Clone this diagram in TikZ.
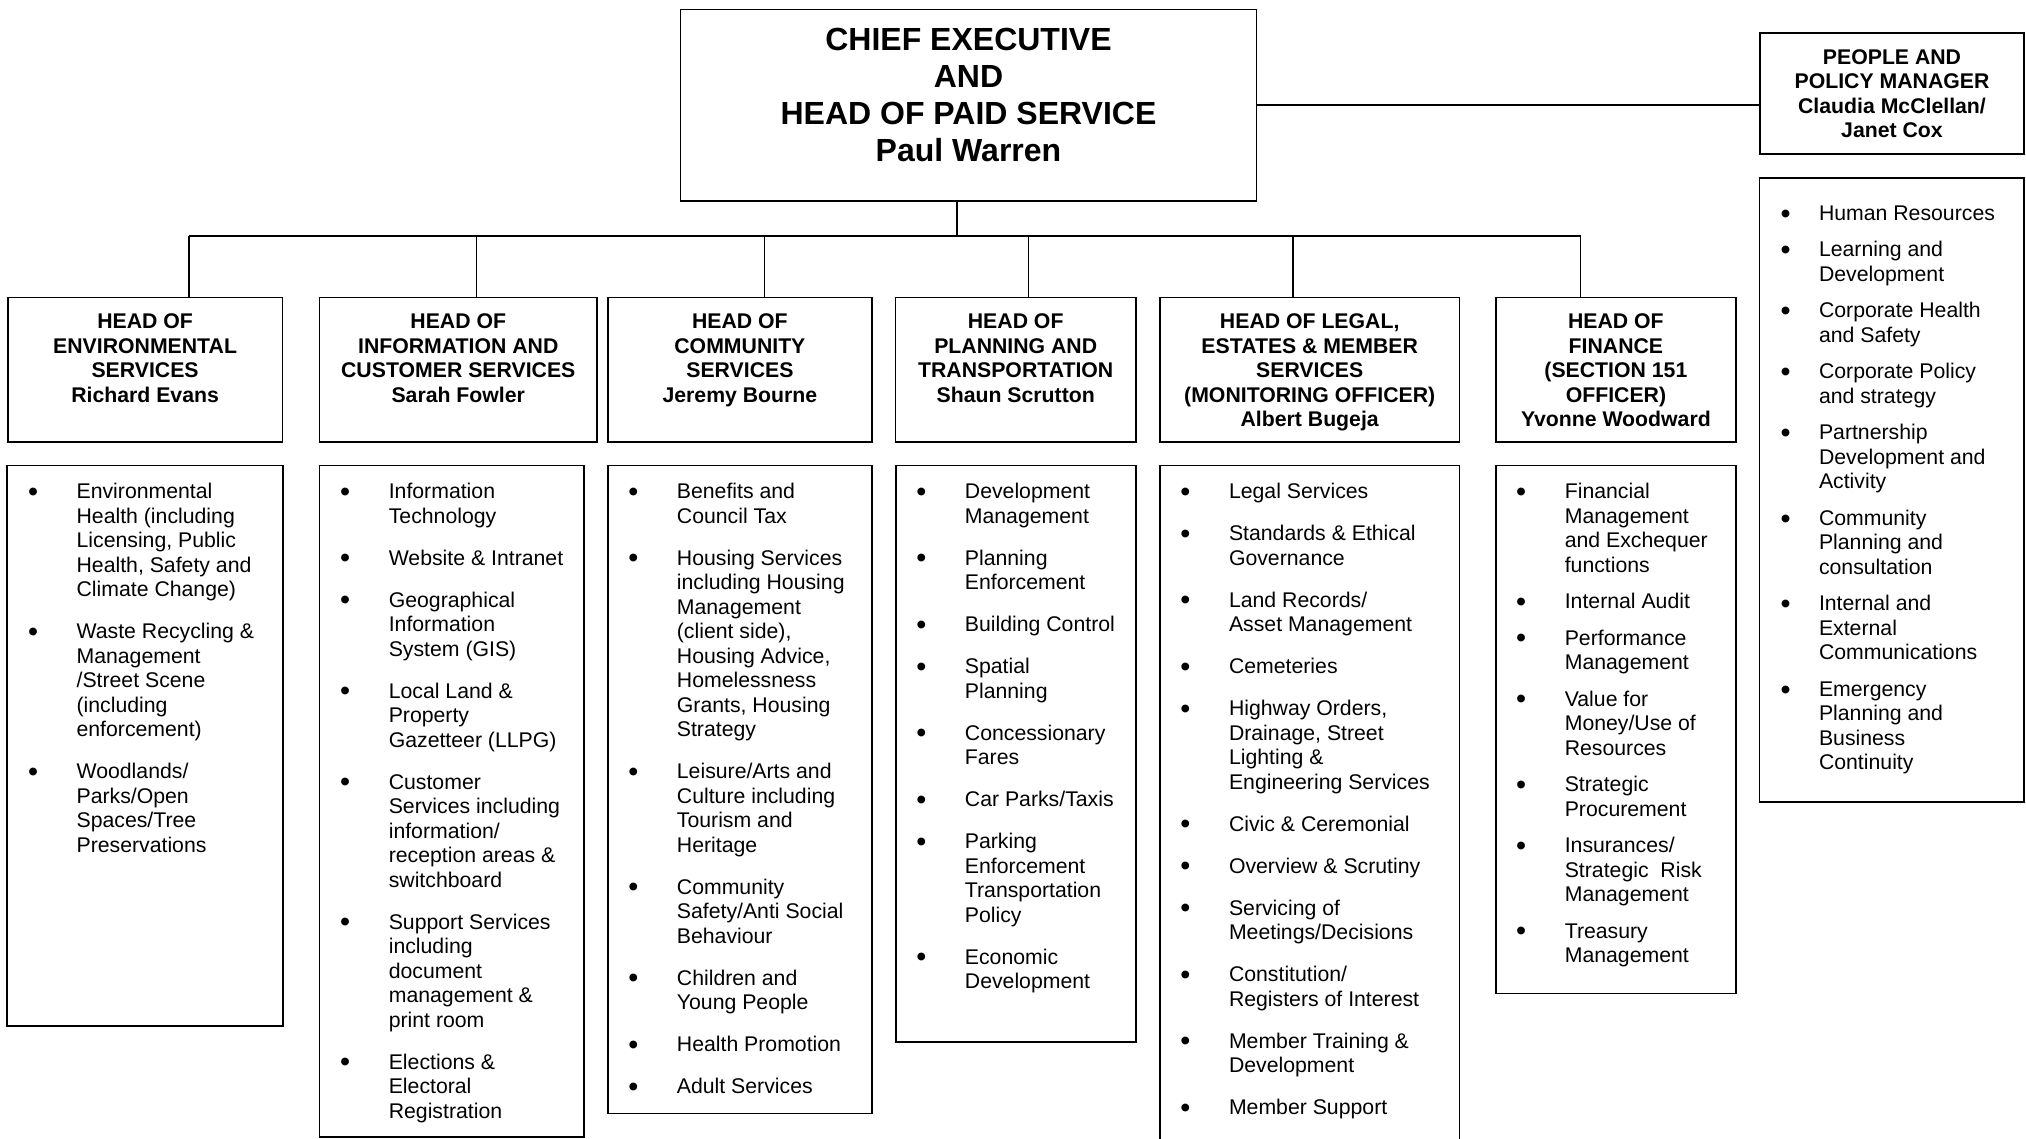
\documentclass[tikz,border=0pt]{standalone}
\usepackage{fontspec}
\setmainfont{Liberation Sans}
\newlength\bind
\newcommand\bul{\hspace*{-1.3pt}\raisebox{-2.6pt}{\scalebox{1.35}{•}}}
\newcommand\bi[1]{\noindent\hangindent=\bind\hangafter=1\makebox[\bind][l]{\bul}#1\par}
\newcommand\lsetup[2]{\fontsize{21.25}{24.5}\selectfont\setlength\parskip{#1}\setlength\bind{#2}}
\newcommand\hd{\fontsize{21.25}{24.5}\selectfont\bfseries}
\newcommand\cefont{\fontsize{32}{37.2}\selectfont\bfseries}
\tikzset{
  box/.style={draw=black, line width=1.6pt, inner sep=0pt, outer sep=0pt, anchor=north west},
  conn/.style={draw=black, line width=1.6pt},
  txt/.style={inner sep=0pt, anchor=base},
  ltxt/.style={inner sep=0pt, anchor=base west},
}
\begin{document}
\begin{tikzpicture}[x=1pt,y=-1pt]
\useasboundingbox (0,0) rectangle (2026,1138);
% --- boxes
\node[box, minimum width=576, minimum height=191.7] (ce) at (680.5,9.3) {};
\node[box, minimum width=264, minimum height=120.7] (pp) at (1760,33) {};
\node[box, minimum width=274.8, minimum height=144.4] (h1) at (7.7,297.3) {};
\node[box, minimum width=277.5, minimum height=144.4] (h2) at (319.5,297.3) {};
\node[box, minimum width=264.2, minimum height=144.4] (h3) at (607.8,297.3) {};
\node[box, minimum width=240.2, minimum height=144.4] (h4) at (895.6,297.3) {};
\node[box, minimum width=299.7, minimum height=144.4] (h5) at (1159.8,297.3) {};
\node[box, minimum width=239.7, minimum height=144.4] (h6) at (1496,297.3) {};
\node[box, minimum width=276, minimum height=560.6] (l1) at (7.1,465.4) {};
\node[box, minimum width=264.5, minimum height=671.3] (l2) at (319.5,465.4) {};
\node[box, minimum width=264.2, minimum height=648] (l3) at (607.9,465.4) {};
\node[box, minimum width=240.2, minimum height=576.6] (l4) at (896,465.4) {};
\node[box, minimum width=299.7, minimum height=679.6] (l5) at (1159.9,465.4) {};
\node[box, minimum width=240, minimum height=528] (l6) at (1495.9,465.4) {};
\node[box, minimum width=264.6, minimum height=624.1] (lp) at (1759.6,177.7) {};
% --- connectors
\coordinate (j0) at (956.8,235.8);
\coordinate (j1) at (188.8,235.8);
\coordinate (j2) at (476.4,235.8);
\coordinate (j3) at (764.6,235.8);
\coordinate (j4) at (1028.6,235.8);
\coordinate (j5) at (1292.8,235.8);
\coordinate (j6) at (1580.5,235.8);
\draw[conn] (j0 |- ce.south) -- (j0);
\draw[conn] (j1) -- (j6);
\draw[conn] (j1) -- (j1 |- h1.north);
\draw[conn] (j2) -- (j2 |- h2.north);
\draw[conn] (j3) -- (j3 |- h3.north);
\draw[conn] (j4) -- (j4 |- h4.north);
\draw[conn] (j5) -- (j5 |- h5.north);
\draw[conn] (j6) -- (j6 |- h6.north);
\draw[conn] (ce.east) -- (ce.east -| pp.west);
% --- titles
\node[txt] (cet) at (968.5,50.3) {\parbox[t]{560pt}{\centering\cefont CHIEF EXECUTIVE\\AND\\HEAD OF PAID SERVICE\\Paul Warren}};
\node[txt] (ppt) at (1892,64.3) {\parbox[t]{260pt}{\centering\hd PEOPLE AND\\POLICY MANAGER\\Claudia McClellan/\\Janet Cox}};
\node[txt] (h1t) at (145.1,328.5) {\parbox[t]{270pt}{\centering\hd HEAD OF\\ENVIRONMENTAL\\SERVICES\\Richard Evans}};
\node[txt] (h2t) at (458.25,328.5) {\parbox[t]{270pt}{\centering\hd HEAD OF\\INFORMATION AND\\CUSTOMER SERVICES\\Sarah Fowler}};
\node[txt] (h3t) at (739.9,328.5) {\parbox[t]{260pt}{\centering\hd HEAD OF\\COMMUNITY\\SERVICES\\Jeremy Bourne}};
\node[txt] (h4t) at (1015.7,328.5) {\parbox[t]{236pt}{\centering\hd HEAD OF\\PLANNING AND\\TRANSPORTATION\\Shaun Scrutton}};
\node[txt] (h5t) at (1309.7,328.5) {\parbox[t]{296pt}{\centering\hd HEAD OF LEGAL,\\ESTATES \& MEMBER\\SERVICES\\(MONITORING OFFICER)\\Albert Bugeja}};
\node[txt] (h6t) at (1615.9,328.5) {\parbox[t]{236pt}{\centering\hd HEAD OF\\FINANCE\\(SECTION 151\\OFFICER)\\Yvonne Woodward}};
% --- lists
\node[ltxt] (l1t) at (29.1,498.5) {\parbox[t]{300pt}{\lsetup{17.5pt}{47.3pt}%
\bi{Environmental\\Health (including\\Licensing, Public\\Health, Safety and\\Climate Change)}
\bi{Waste Recycling \&\\Management\\/Street Scene\\(including\\enforcement)}
\bi{Woodlands/\\Parks/Open\\Spaces/Tree\\Preservations}}};
\node[ltxt] (l2t) at (341.3,498.5) {\parbox[t]{300pt}{\lsetup{17.5pt}{47.3pt}%
\bi{Information\\Technology}
\bi{Website \& Intranet}
\bi{Geographical\\Information\\System (GIS)}
\bi{Local Land \&\\Property\\Gazetteer (LLPG)}
\bi{Customer\\Services including\\information/\\reception areas \&\\switchboard}
\bi{Support Services\\including\\document\\management \&\\print room}
\bi{Elections \&\\Electoral\\Registration}}};
\node[ltxt] (l3t) at (629.4,498.5) {\parbox[t]{300pt}{\lsetup{17.5pt}{47.3pt}%
\bi{Benefits and\\Council Tax}
\bi{Housing Services\\including Housing\\Management\\(client side),\\Housing Advice,\\Homelessness\\Grants, Housing\\Strategy}
\bi{Leisure/Arts and\\Culture including\\Tourism and\\Heritage}
\bi{Community\\Safety/Anti Social\\Behaviour}
\bi{Children and\\Young People}
\bi{Health Promotion}
\bi{Adult Services}}};
\node[ltxt] (l4t) at (917.4,498.5) {\parbox[t]{300pt}{\lsetup{17.5pt}{47.3pt}%
\bi{Development\\Management}
\bi{Planning\\Enforcement}
\bi{Building Control}
\bi{Spatial\\Planning}
\bi{Concessionary\\Fares}
\bi{Car Parks/Taxis}
\bi{Parking\\Enforcement\\Transportation\\Policy}
\bi{Economic\\Development}}};
\node[ltxt] (l5t) at (1181.5,498.5) {\parbox[t]{300pt}{\lsetup{17.5pt}{47.3pt}%
\bi{Legal Services}
\bi{Standards \& Ethical\\Governance}
\bi{Land Records/\\Asset Management}
\bi{Cemeteries}
\bi{Highway Orders,\\Drainage, Street\\Lighting \&\\Engineering Services}
\bi{Civic \& Ceremonial}
\bi{Overview \& Scrutiny}
\bi{Servicing of\\Meetings/Decisions}
\bi{Constitution/\\Registers of Interest}
\bi{Member Training \&\\Development}
\bi{Member Support}}};
\node[ltxt] (l6t) at (1517.1,498.5) {\parbox[t]{300pt}{\lsetup{12pt}{47.5pt}%
\bi{Financial\\Management\\and Exchequer\\functions}
\bi{Internal Audit}
\bi{Performance\\Management}
\bi{Value for\\Money/Use of\\Resources}
\bi{Strategic\\Procurement}
\bi{Insurances/\\Strategic~ Risk\\Management}
\bi{Treasury\\Management}}};
\node[ltxt] (lpt) at (1781.7,220.4) {\parbox[t]{300pt}{\lsetup{12pt}{37.1pt}%
\bi{Human Resources}
\bi{Learning and\\Development}
\bi{Corporate Health\\and Safety}
\bi{Corporate Policy\\and strategy}
\bi{Partnership\\Development and\\Activity}
\bi{Community\\Planning and\\consultation}
\bi{Internal and\\External\\Communications}
\bi{Emergency\\Planning and\\Business\\Continuity}}};
\end{tikzpicture}
\end{document}
